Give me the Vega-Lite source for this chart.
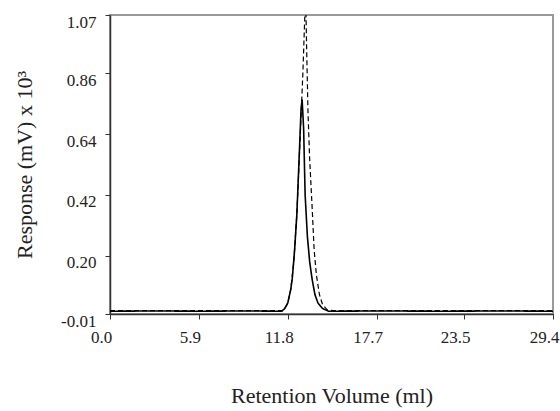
{
  "$schema": "https://vega.github.io/schema/vega-lite/v6.json",
  "width": 443,
  "height": 299,
  "autosize": "none",
  "padding": {"left": 110, "top": 15, "right": 7, "bottom": 97},
  "background": "white",
  "config": {
    "view": {"stroke": "#999999", "strokeWidth": 2},
    "font": "Liberation Serif",
    "axis": {
      "labelFont": "Liberation Serif",
      "titleFont": "Liberation Serif",
      "labelFontSize": 17,
      "titleFontSize": 22,
      "titleFontWeight": "normal",
      "labelColor": "#222222",
      "titleColor": "#222222",
      "domainColor": "#333333",
      "domainWidth": 1.5,
      "tickColor": "#333333",
      "tickSize": 5,
      "grid": false
    }
  },
  "data": {
    "values": [
      {"volume": 0.0, "response": 0.0, "run": "solid"},
      {"volume": 3.0, "response": 0.001, "run": "solid"},
      {"volume": 6.0, "response": 0.0, "run": "solid"},
      {"volume": 9.0, "response": 0.001, "run": "solid"},
      {"volume": 11.4, "response": 0.0, "run": "solid"},
      {"volume": 11.6, "response": 0.01, "run": "solid"},
      {"volume": 11.8, "response": 0.03, "run": "solid"},
      {"volume": 12.0, "response": 0.08, "run": "solid"},
      {"volume": 12.1, "response": 0.12, "run": "solid"},
      {"volume": 12.25, "response": 0.22, "run": "solid"},
      {"volume": 12.4, "response": 0.35, "run": "solid"},
      {"volume": 12.55, "response": 0.55, "run": "solid"},
      {"volume": 12.68, "response": 0.73, "run": "solid"},
      {"volume": 12.75, "response": 0.765, "run": "solid"},
      {"volume": 12.85, "response": 0.66, "run": "solid"},
      {"volume": 12.95, "response": 0.42, "run": "solid"},
      {"volume": 13.1, "response": 0.27, "run": "solid"},
      {"volume": 13.25, "response": 0.18, "run": "solid"},
      {"volume": 13.4, "response": 0.12, "run": "solid"},
      {"volume": 13.6, "response": 0.06, "run": "solid"},
      {"volume": 13.8, "response": 0.03, "run": "solid"},
      {"volume": 14.1, "response": 0.01, "run": "solid"},
      {"volume": 14.5, "response": 0.0, "run": "solid"},
      {"volume": 18.0, "response": 0.001, "run": "solid"},
      {"volume": 22.0, "response": 0.0, "run": "solid"},
      {"volume": 26.0, "response": 0.001, "run": "solid"},
      {"volume": 29.4, "response": 0.0, "run": "solid"},
      {"volume": 0.0, "response": 0.002, "run": "dashed"},
      {"volume": 5.0, "response": 0.002, "run": "dashed"},
      {"volume": 10.0, "response": 0.002, "run": "dashed"},
      {"volume": 11.4, "response": 0.002, "run": "dashed"},
      {"volume": 11.6, "response": 0.01, "run": "dashed"},
      {"volume": 11.8, "response": 0.03, "run": "dashed"},
      {"volume": 12.0, "response": 0.08, "run": "dashed"},
      {"volume": 12.2, "response": 0.18, "run": "dashed"},
      {"volume": 12.4, "response": 0.35, "run": "dashed"},
      {"volume": 12.6, "response": 0.6, "run": "dashed"},
      {"volume": 12.8, "response": 0.86, "run": "dashed"},
      {"volume": 12.9, "response": 1.02, "run": "dashed"},
      {"volume": 12.98, "response": 1.15, "run": "dashed"},
      {"volume": 13.05, "response": 0.95, "run": "dashed"},
      {"volume": 13.14, "response": 0.72, "run": "dashed"},
      {"volume": 13.25, "response": 0.55, "run": "dashed"},
      {"volume": 13.41, "response": 0.38, "run": "dashed"},
      {"volume": 13.55, "response": 0.22, "run": "dashed"},
      {"volume": 13.7, "response": 0.13, "run": "dashed"},
      {"volume": 13.9, "response": 0.06, "run": "dashed"},
      {"volume": 14.1, "response": 0.025, "run": "dashed"},
      {"volume": 14.4, "response": 0.006, "run": "dashed"},
      {"volume": 14.8, "response": 0.002, "run": "dashed"},
      {"volume": 20.0, "response": 0.002, "run": "dashed"},
      {"volume": 25.0, "response": 0.002, "run": "dashed"},
      {"volume": 29.4, "response": 0.002, "run": "dashed"}
    ]
  },
  "mark": {"type": "line", "color": "black", "clip": true},
  "encoding": {
    "x": {
      "field": "volume",
      "type": "quantitative",
      "title": "Retention Volume (ml)",
      "scale": {"domain": [0, 29.4], "nice": false, "zero": false},
      "axis": {
        "values": [0, 5.9, 11.8, 17.7, 23.5, 29.4],
        "format": ".1f",
        "labelPadding": 10,
        "labelOffset": -9,
        "labelFlush": false,
        "titlePadding": 40
      }
    },
    "y": {
      "field": "response",
      "type": "quantitative",
      "title": "Response (mV) x 10³",
      "scale": {"domain": [-0.01, 1.07], "nice": false, "zero": false},
      "axis": {
        "values": [-0.01, 0.2, 0.42, 0.64, 0.86, 1.07],
        "format": ".2f",
        "labelExpr": "replace(datum.label, '−', '-')",
        "labelBaseline": "top",
        "labelOffset": -1,
        "labelPadding": 9,
        "labelFlush": false,
        "titlePadding": 24
      }
    },
    "detail": {"field": "run"},
    "strokeDash": {
      "field": "run",
      "type": "nominal",
      "scale": {"domain": ["solid", "dashed"], "range": [[1, 0], [5, 3]]},
      "legend": null
    },
    "strokeWidth": {
      "field": "run",
      "type": "nominal",
      "scale": {"domain": ["solid", "dashed"], "range": [1.6, 1.2]},
      "legend": null
    }
  }
}
